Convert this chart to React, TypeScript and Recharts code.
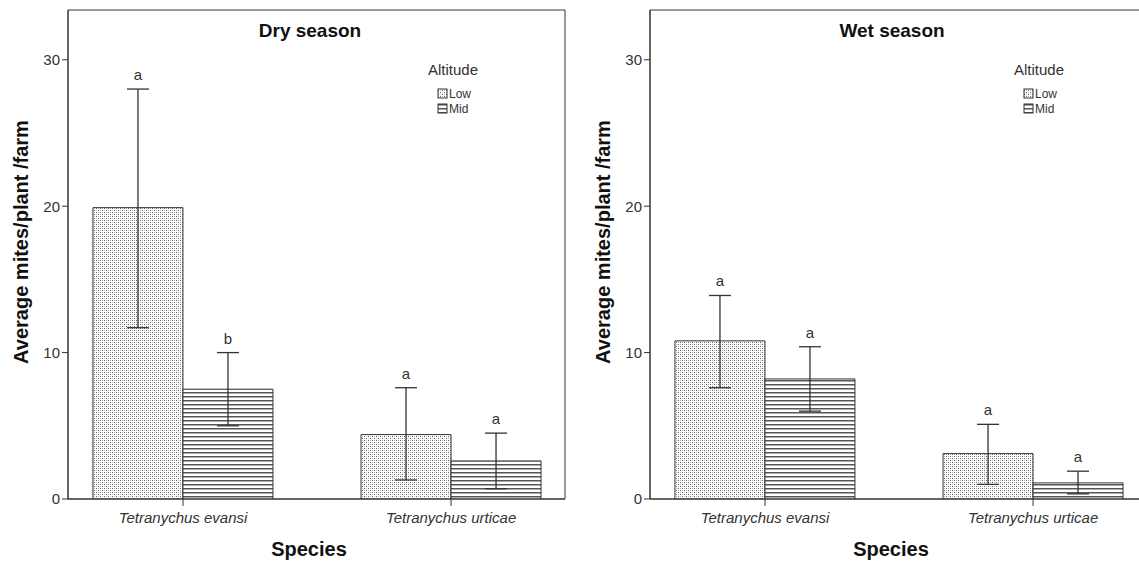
import React from 'react';
import { BarChart, Bar, XAxis, YAxis, ErrorBar, LabelList, ReferenceArea } from 'recharts';

// species along the x axis, placed at numeric positions 1 and 2
const species = ['Tetranychus evansi', 'Tetranychus urticae'];
const speciesPos = [1, 2];
const altitudes = ['Low', 'Mid'];
const yTicks = [0, 10, 20, 30];

// dry season: means, [lower, upper] error, significance letters
const dryLow = [19.9, 4.4];
const dryLowErr = [[8.2, 8.1], [3.1, 3.2]];
const dryLowSig = ['a', 'a'];
const dryMid = [7.5, 2.6];
const dryMidErr = [[2.5, 2.5], [1.9, 1.9]];
const dryMidSig = ['b', 'a'];

// wet season
const wetLow = [10.8, 3.1];
const wetLowErr = [[3.2, 3.1], [2.1, 2.0]];
const wetLowSig = ['a', 'a'];
const wetMid = [8.2, 1.1];
const wetMidErr = [[2.2, 2.2], [0.75, 0.8]];
const wetMidSig = ['a', 'a'];

const X_MIN = 0.571;
const X_MAX = 2.425;
const Y_MAX = 33.4;

const INK = '#333';
const FONT = '"Liberation Sans", Arial, sans-serif';

const sigLabel = (values: number[], errs: number[][]) => (props: any) => {
  const vb = props.viewBox ?? props;
  const { x, y, width, height } = vb;
  const i = props.index;
  const capY = y - errs[i][1] * (height / values[i]);
  return (
    <text x={x + width / 2} y={capY - 9} textAnchor="middle" fontSize={15} fill={INK}>
      {props.value}
    </text>
  );
};

interface PanelProps {
  title: string;
  id: string;
  low: number[];
  lowErr: number[][];
  lowSig: string[];
  mid: number[];
  midErr: number[][];
  midSig: string[];
  legendX: number;
}

const Panel = ({ title, id, low, lowErr, lowSig, mid, midErr, midSig, legendX }: PanelProps) => {
  const rows = speciesPos.map((pos, i) => ({
    pos,
    low: low[i],
    lowErr: lowErr[i],
    lowSig: lowSig[i],
    mid: mid[i],
    midErr: midErr[i],
    midSig: midSig[i],
  }));
  const fills = [`url(#${id}-dots)`, `url(#${id}-lines)`];

  return (
    <BarChart
      width={582}
      height={562}
      data={rows}
      margin={{ top: 10, right: 17, bottom: 0, left: 0 }}
      barGap={0}
      barSize={90}
    >
      <defs>
        <pattern id={`${id}-dots`} width="4" height="4" patternUnits="userSpaceOnUse">
          <rect width="4" height="4" fill="#fff" />
          <rect x="0" y="0" width="1" height="1" fill="#666" />
          <rect x="2" y="2" width="1" height="1" fill="#666" />
          <rect x="2" y="0" width="1" height="1" fill="#bbb" />
          <rect x="0" y="2" width="1" height="1" fill="#bbb" />
        </pattern>
        <pattern id={`${id}-lines`} width="4" height="4" patternUnits="userSpaceOnUse">
          <rect width="4" height="4" fill="#fff" />
          <rect x="0" y="0" width="4" height="1" fill="#555" />
          <rect x="0" y="1" width="4" height="1" fill="#aaa" />
        </pattern>
      </defs>

      <XAxis
        type="number"
        dataKey="pos"
        domain={[X_MIN, X_MAX]}
        allowDataOverflow
        ticks={speciesPos}
        tickFormatter={(v: number) => species[v - 1]}
        height={63}
        axisLine={{ stroke: INK }}
        tickLine={{ stroke: INK }}
        tickSize={7}
        tickMargin={6}
        tick={{ fontSize: 15, fontStyle: 'italic', fill: INK }}
      />
      <YAxis
        domain={[0, Y_MAX]}
        allowDataOverflow
        ticks={yTicks}
        width={68}
        axisLine={{ stroke: INK }}
        tickLine={{ stroke: INK }}
        tickSize={6}
        tickMargin={2}
        tick={{ fontSize: 15, fill: INK }}
      />
      <ReferenceArea x1={X_MIN} x2={X_MAX} y1={0} y2={Y_MAX} fill="none" stroke={INK} strokeOpacity={1} />

      <Bar dataKey="low" fill={fills[0]} stroke={INK} isAnimationActive={false}>
        <ErrorBar dataKey="lowErr" direction="y" width={11} stroke={INK} strokeWidth={1.3} />
        <LabelList dataKey="lowSig" content={sigLabel(low, lowErr)} />
      </Bar>
      <Bar dataKey="mid" fill={fills[1]} stroke={INK} isAnimationActive={false}>
        <ErrorBar dataKey="midErr" direction="y" width={11} stroke={INK} strokeWidth={1.3} />
        <LabelList dataKey="midSig" content={sigLabel(mid, midErr)} />
      </Bar>

      <text x={310} y={37} textAnchor="middle" fontSize={19} fontWeight="bold" fill="#111">
        {title}
      </text>
      <text
        x={21}
        y={242}
        transform="rotate(-90 21 242)"
        dy="0.35em"
        textAnchor="middle"
        fontSize={20}
        fontWeight="bold"
        fill="#111"
      >
        Average mites/plant /farm
      </text>
      <text x={309} y={556} textAnchor="middle" fontSize={20} fontWeight="bold" fill="#111">
        Species
      </text>

      <g>
        <text x={legendX} y={75} fontSize={15} fill={INK}>
          Altitude
        </text>
        {altitudes.map((name, i) => (
          <g key={name}>
            <rect x={legendX + 10} y={89 + i * 15} width={9} height={9} fill={fills[i]} stroke={INK} />
            <text x={legendX + 21} y={98 + i * 15} fontSize={12} fill={INK}>
              {name}
            </text>
          </g>
        ))}
      </g>
    </BarChart>
  );
};

export default function App() {
  return (
    <div
      style={{
        position: 'absolute',
        left: 0,
        top: 0,
        width: 1139,
        height: 562,
        overflow: 'hidden',
        background: '#fff',
        fontFamily: FONT,
      }}
    >
      <div style={{ position: 'absolute', left: 0, top: 0 }}>
        <Panel
          title="Dry season"
          id="dry"
          low={dryLow}
          lowErr={dryLowErr}
          lowSig={dryLowSig}
          mid={dryMid}
          midErr={dryMidErr}
          midSig={dryMidSig}
          legendX={428}
        />
      </div>
      <div style={{ position: 'absolute', left: 582, top: 0 }}>
        <Panel
          title="Wet season"
          id="wet"
          low={wetLow}
          lowErr={wetLowErr}
          lowSig={wetLowSig}
          mid={wetMid}
          midErr={wetMidErr}
          midSig={wetMidSig}
          legendX={432}
        />
      </div>
    </div>
  );
}
